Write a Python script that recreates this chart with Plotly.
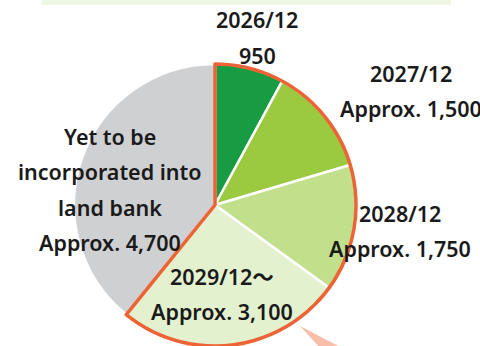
import plotly.graph_objects as go

W, H = 480, 346

categories = ["2026/12", "2027/12", "2028/12", "2029/12～", "Yet to be incorporated into land bank"]
values = [950, 1500, 1750, 3100, 4700]
colors = ["#179B43", "#9BC93F", "#C2DF8C", "#E3F1CF", "#CFD0D2"]
label_lines = [
    ["2026/12", "950"],
    ["2027/12", "Approx. 1,500"],
    ["2028/12", "Approx. 1,750"],
    ["2029/12～", "Approx. 3,100"],
    ["Yet to be", "incorporated into", "land bank", "Approx. 4,700"],
]
# grouped: incorporated (greens) vs not yet
group_values = [sum(values[:4]), values[4]]

ORANGE = "#EC6435"

def px(x):
    return x / W

def py(y):
    return 1 - y / H

# pie domain in pixels: center (215,205), radius 141
cx, cy, r = 215, 205, 141
dom_x = [px(cx - r), px(cx + r)]
dom_y = [py(cy + r), py(cy - r)]

fig = go.Figure()
fig.add_trace(go.Pie(
    labels=categories, values=values, sort=False, direction="clockwise", rotation=0,
    marker=dict(colors=colors, line=dict(color="white", width=2.5)),
    textinfo="none", hoverinfo="label+value", showlegend=False,
    domain=dict(x=dom_x, y=dom_y),
))
fig.add_trace(go.Pie(
    labels=["incorporated", "not yet"], values=group_values, sort=False,
    direction="clockwise", rotation=0,
    marker=dict(colors=["rgba(0,0,0,0)", "rgba(0,0,0,0)"],
                line=dict(color=[ORANGE, "rgba(0,0,0,0)"], width=3.5)),
    textinfo="none", hoverinfo="skip", showlegend=False,
    domain=dict(x=dom_x, y=dom_y),
))

# label positions (pixel centers of first line) and line spacing
label_pos = [(257, 19.5), (411, 73), (400, 213), (222, 276), (110, 136)]
spacing = 35.5
FONT = dict(family="Noto Sans, Noto Sans CJK JP", size=21.5, color="#1a1a1a", weight=600)

annotations = []
for lines, (lx, ly) in zip(label_lines, label_pos):
    for i, t in enumerate(lines):
        annotations.append(dict(
            x=px(lx), y=py(ly + i * spacing), xref="paper", yref="paper",
            text=t, showarrow=False, xanchor="center", yanchor="middle",
            font=FONT,
        ))

shapes = [
    dict(type="rect", xref="paper", yref="paper",
         x0=px(42), x1=px(451), y0=py(5), y1=py(-2),
         fillcolor="#EFF6E4", line=dict(width=0), layer="below"),
    dict(type="path", xref="paper", yref="paper",
         path=f"M {px(300)} {py(326)} L {px(346)} {py(350)} L {px(322)} {py(350)} Z",
         fillcolor="#F8BEA9", line=dict(width=0), layer="below"),
]

fig.update_layout(
    width=W, height=H, margin=dict(l=0, r=0, t=0, b=0),
    paper_bgcolor="white", plot_bgcolor="white",
    annotations=annotations, shapes=shapes,
)

fig.write_html("out.html")
